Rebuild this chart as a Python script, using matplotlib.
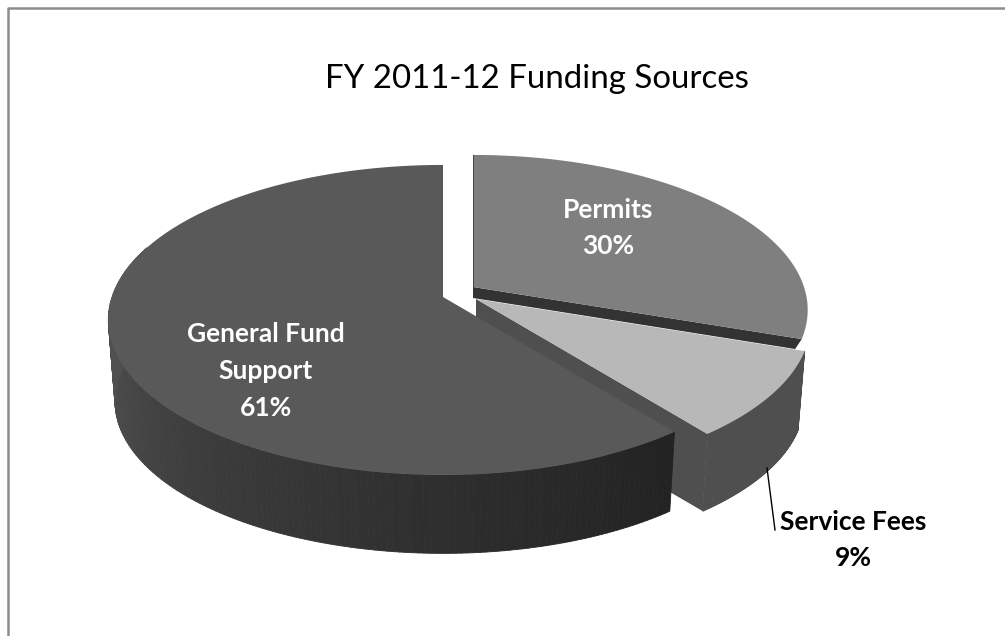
import numpy as np
import matplotlib
matplotlib.use("Agg")
import matplotlib.pyplot as plt
from matplotlib.collections import PolyCollection

plt.rcParams['font.family'] = ['Lato', 'DejaVu Sans']

# Datos
categories = ["Permits", "Service Fees", "General Fund\nSupport"]
percent = [30.3, 9.1, 60.6]
title = "FY 2011-12 Funding Sources"

W, H = 1005, 636

# Geometria del pastel en perspectiva (pixeles)
cx, cy = 443, 297
ax_a, ax_b, persp = 331, 151.6, 0.148
shrink = 0.98


def project(ang, off=(0, 0), depth=0):
    # angulo en grados desde arriba, sentido horario
    t = np.radians(ang)
    u, v = np.sin(t), np.cos(t)
    w = 1 + persp * v
    s = shrink if depth > 0 else 1.0
    x = cx + off[0] + s * ax_a * u / w
    y = cy + off[1] - s * ax_b * v / w + depth
    return x, y


def apex(off, depth=0):
    return cx + off[0], cy + off[1] + depth


def top_face(ax, a0, a1, off, color):
    t = np.linspace(a0, a1, 200)
    x, y = project(t, off)
    ax0, ay0 = apex(off)
    ax.fill(np.r_[ax0, x], np.r_[ay0, y], color=color, lw=0, zorder=ax.zcount)
    ax.zcount += 1


def rim_wall(ax, a0, a1, off, depth, shade):
    t = np.linspace(a0, a1, 160)
    x0, y0 = project(t, off)
    x1, y1 = project(t, off, depth)
    quads = [[(x0[i], y0[i]), (x0[i + 1], y0[i + 1]), (x1[i + 1], y1[i + 1]), (x1[i], y1[i])]
             for i in range(len(t) - 1)]
    colors = [shade(0.5 * (t[i] + t[i + 1])) for i in range(len(t) - 1)]
    ax.add_collection(PolyCollection(quads, facecolors=colors, edgecolors=colors,
                                     linewidths=0.6, zorder=ax.zcount))
    ax.zcount += 1


def cut_wall(ax, ang, off, depth, color):
    x, y = project(ang, off)
    x1, y1 = project(ang, off, depth)
    ax0, ay0 = apex(off)
    ax1, ay1 = apex(off, depth)
    ax.fill([ax0, x, x1, ax1], [ay0, y, y1, ay1], color=color, lw=0, zorder=ax.zcount)
    ax.zcount += 1


def gf_shade(ang):
    # gris del borde: oscuro a la derecha, mas claro a la izquierda
    g = np.interp(ang, [140, 180, 220, 265], [0x22, 0x2e, 0x3c, 0x50]) / 255
    return (g, g, g)


# angulos a partir de los porcentajes
edges = np.r_[0, np.cumsum(percent)] * 3.6

fig = plt.figure(figsize=(W / 100, H / 100), dpi=100)
ax = fig.add_axes([0, 0, 1, 1])
ax.set_xlim(0, W)
ax.set_ylim(H, 0)
ax.axis("off")
ax.zcount = 2

# Permits
off_p = (30, -10)
cut_wall(ax, edges[1], off_p, 11, "#333333")
top_face(ax, edges[0], edges[1], off_p, "#7f7f7f")
px, py = project(edges[0], off_p)
ax0, ay0 = apex(off_p)
ax.plot([px, ax0], [py, ay0], color="#444444", lw=0.7, zorder=ax.zcount)

# Service Fees
off_s = (33, 2)
rim_wall(ax, edges[1], edges[2], off_s, 80, lambda a: "#4f4f4f")
cut_wall(ax, edges[2], off_s, 80, "#4f4f4f")
top_face(ax, edges[1], edges[2], off_s, "#b8b8b8")

# General Fund
off_g = (0, 0)
rim_wall(ax, edges[2], edges[3] - 70, off_g, 82, gf_shade)
top_face(ax, edges[2], edges[3], off_g, "#595959")

# Marco: solo arriba y a la izquierda
ax.plot([7.5, 7.5, W], [H, 7.5, 7.5], color="#8c8c8c", lw=1.8, zorder=1)

ax.text(536.5, 79.5, title, fontsize=23.8, ha="center", va="center", color="black", zorder=50)
ax.text(608, 228, f"{categories[0]}\n{round(percent[0])}%", fontsize=19, fontweight="bold",
        color="white", ha="center", va="center", linespacing=1.65, zorder=50)
ax.text(266, 371, f"{categories[2]}\n{round(percent[2])}%", fontsize=19, fontweight="bold",
        color="white", ha="center", va="center", linespacing=1.65, zorder=50)
ax.text(853, 540, f"{categories[1]}\n{round(percent[1])}%", fontsize=19, fontweight="bold",
        color="black", ha="center", va="center", linespacing=1.65, zorder=50)

# linea guia de Service Fees
ax.plot([767, 775], [468, 530], color="black", lw=1, zorder=50)

fig.savefig("out.png", dpi=100)
